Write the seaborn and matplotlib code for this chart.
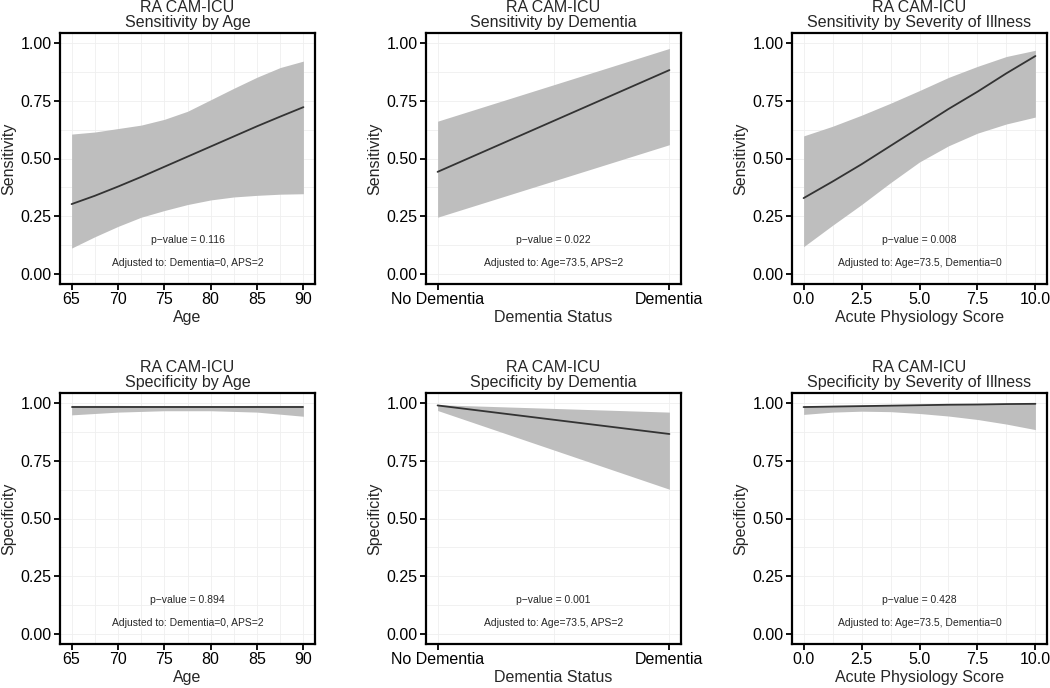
import numpy as np
import pandas as pd
import matplotlib
matplotlib.use("Agg")
import matplotlib.pyplot as plt
import seaborn as sns
from matplotlib.ticker import AutoMinorLocator

# ---- data ----
age_x = [65, 67.5, 70, 72.5, 75, 77.5, 80, 82.5, 85, 87.5, 90]
sens_age_fit = [0.302, 0.338, 0.378, 0.420, 0.464, 0.508, 0.552, 0.596, 0.640, 0.682, 0.723]
sens_age_lo = [0.111, 0.160, 0.205, 0.245, 0.274, 0.300, 0.320, 0.333, 0.340, 0.345, 0.347]
sens_age_hi = [0.606, 0.615, 0.630, 0.645, 0.670, 0.705, 0.755, 0.805, 0.853, 0.895, 0.923]

dem_x = [0, 1]
dem_labels = ["No Dementia", "Dementia"]
sens_dem_fit = [0.442, 0.884]
sens_dem_lo = [0.245, 0.560]
sens_dem_hi = [0.662, 0.978]

aps_x = [0, 1.25, 2.5, 3.75, 5, 6.25, 7.5, 8.75, 10]
sens_aps_fit = [0.328, 0.400, 0.475, 0.555, 0.635, 0.715, 0.790, 0.870, 0.945]
sens_aps_lo = [0.117, 0.210, 0.300, 0.395, 0.485, 0.555, 0.610, 0.650, 0.680]
sens_aps_hi = [0.598, 0.640, 0.688, 0.740, 0.795, 0.852, 0.900, 0.943, 0.970]

age_x2 = [65, 70, 75, 80, 85, 90]
spec_age_fit = [0.986, 0.986, 0.986, 0.986, 0.986, 0.986]
spec_age_lo = [0.950, 0.962, 0.968, 0.968, 0.962, 0.944]
spec_age_hi = [0.991, 0.991, 0.990, 0.990, 0.991, 0.991]

spec_dem_fit = [0.991, 0.867]
spec_dem_lo = [0.969, 0.627]
spec_dem_hi = [0.994, 0.962]

spec_aps_fit = [0.984, 0.986, 0.988, 0.990, 0.992, 0.994, 0.995, 0.997, 0.998]
spec_aps_lo = [0.952, 0.962, 0.966, 0.964, 0.956, 0.945, 0.930, 0.910, 0.886]
spec_aps_hi = [0.990, 0.991, 0.992, 0.994, 0.995, 0.997, 0.998, 0.999, 0.9995]

pvals = ["0.116", "0.022", "0.008", "0.894", "0.001", "0.428"]
adjusted = ["Adjusted to: Dementia=0, APS=2",
            "Adjusted to: Age=73.5, APS=2",
            "Adjusted to: Age=73.5, Dementia=0"]

panels = [
    ("Sensitivity by Age", "Age", "Sensitivity", age_x, sens_age_fit, sens_age_lo, sens_age_hi),
    ("Sensitivity by Dementia", "Dementia Status", "Sensitivity", dem_x, sens_dem_fit, sens_dem_lo, sens_dem_hi),
    ("Sensitivity by Severity of Illness", "Acute Physiology Score", "Sensitivity", aps_x, sens_aps_fit, sens_aps_lo, sens_aps_hi),
    ("Specificity by Age", "Age", "Specificity", age_x2, spec_age_fit, spec_age_lo, spec_age_hi),
    ("Specificity by Dementia", "Dementia Status", "Specificity", dem_x, spec_dem_fit, spec_dem_lo, spec_dem_hi),
    ("Specificity by Severity of Illness", "Acute Physiology Score", "Specificity", aps_x, spec_aps_fit, spec_aps_lo, spec_aps_hi),
]

sns.set_theme(style="ticks")
plt.rcParams["font.family"] = ["Liberation Sans", "DejaVu Sans"]

fig = plt.figure(figsize=(10.5, 6.88), dpi=100)
lefts = [60, 426, 792]
tops = [33, 393]
W, H = 255, 251

for i, (title, xlab, ylab, xs, fit, lo, hi) in enumerate(panels):
    row, col = divmod(i, 3)
    ax = fig.add_axes([lefts[col] / 1050, 1 - (tops[row] + H) / 688, W / 1050, H / 688])
    df = pd.DataFrame({"x": xs, "fit": fit, "lo": lo, "hi": hi})

    # confidence band + fitted line
    ax.fill_between(df["x"], df["lo"], df["hi"], color="#BEBEBE", lw=0, zorder=2)
    sns.lineplot(data=df, x="x", y="fit", ax=ax, color="#333333", lw=1.3, zorder=3)

    xmin, xmax = min(xs), max(xs)
    pad = 0.05 * (xmax - xmin)
    ax.set_xlim(xmin - pad, xmax + pad)
    ax.set_ylim(-0.045, 1.045)
    ax.set_yticks([0, 0.25, 0.5, 0.75, 1.0])
    ax.set_yticklabels(["0.00", "0.25", "0.50", "0.75", "1.00"])
    if xlab == "Age":
        ax.set_xticks([65, 70, 75, 80, 85, 90])
    elif xlab == "Dementia Status":
        ax.set_xticks(dem_x)
        ax.set_xticklabels(dem_labels)
    else:
        ax.set_xticks([0, 2.5, 5, 7.5, 10])
        ax.set_xticklabels(["0.0", "2.5", "5.0", "7.5", "10.0"])
    ax.xaxis.set_minor_locator(AutoMinorLocator(2))
    ax.yaxis.set_minor_locator(AutoMinorLocator(2))

    ax.grid(True, which="both", color="#EFEFEF", lw=0.6, zorder=0)
    ax.set_axisbelow(True)
    for s in ax.spines.values():
        s.set_color("black")
        s.set_linewidth(1.6)
    ax.tick_params(which="major", direction="out", length=4, width=1.3,
                   color="black", labelsize=11.5, labelcolor="black", pad=2)
    ax.tick_params(which="minor", length=0)

    ax.set_title("RA CAM-ICU\n" + title, fontsize=11.5, pad=4, linespacing=1.0)
    ax.set_xlabel(xlab, fontsize=11.5, labelpad=2)
    ax.set_ylabel(ylab, fontsize=11.5, labelpad=3)

    xmid = (xmin + xmax) / 2
    ax.text(xmid, 0.145, f"p\u2212value = {pvals[i]}", ha="center", va="center", fontsize=7.5)
    ax.text(xmid, 0.048, adjusted[col], ha="center", va="center", fontsize=7.5)

fig.savefig("out.png", dpi=100)
